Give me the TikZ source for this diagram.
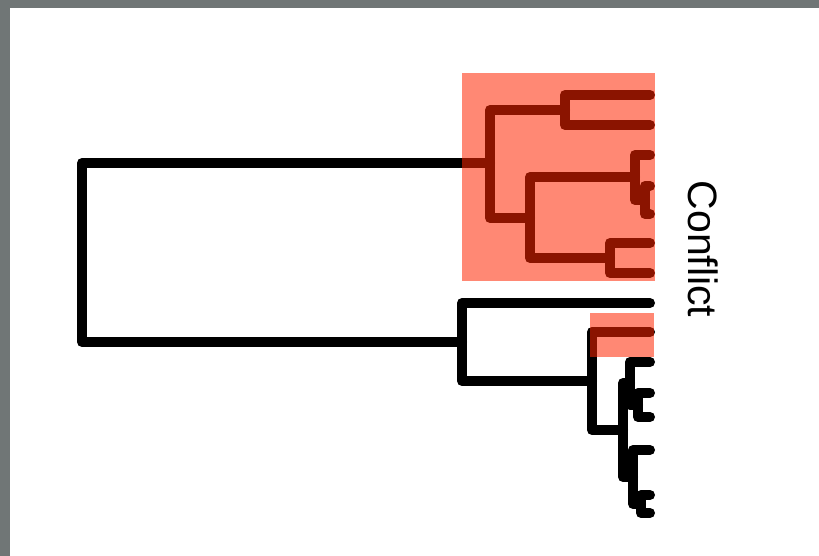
\documentclass[tikz,border=0pt]{standalone}
\usepackage{fontspec}
\setmainfont{Liberation Sans}
\definecolor{framegray}{RGB}{112,118,118}
\definecolor{hlred}{RGB}{255,38,0}
\begin{document}
\begin{tikzpicture}[x=1pt,y=-1pt,
  branch/.style={line width=10pt, line cap=round, line join=round, black},
  hilite/.style={fill=hlred, fill opacity=0.545, draw=none}]
\useasboundingbox (0,0) rectangle (819,556);
\fill[white] (0,0) rectangle (819,556);
% window frame edges
\fill[framegray] (0,0) rectangle (819,8);
\fill[framegray] (0,0) rectangle (10,556);

% internal nodes
\coordinate (root) at (82,251);
\coordinate (A)    at (490,163);
\coordinate (A1)   at (565,110);
\coordinate (A2)   at (530,218);
\coordinate (A21)  at (635,177);
\coordinate (A211) at (645,200);
\coordinate (A22)  at (610,258);
\coordinate (B)    at (462,342);
\coordinate (B2)   at (592,381);
\coordinate (B3)   at (623,430);
\coordinate (B31)  at (630,383);
\coordinate (B311) at (638,405);
\coordinate (B32)  at (633,477);
\coordinate (B321) at (641,504);
% leaves
\coordinate (a1) at (650,95);
\coordinate (a2) at (650,125);
\coordinate (a3) at (650,155);
\coordinate (a4) at (650,186);
\coordinate (a5) at (650,214);
\coordinate (a6) at (650,243);
\coordinate (a7) at (650,273);
\coordinate (b1) at (650,303);
\coordinate (b2) at (650,332);
\coordinate (b3) at (650,362);
\coordinate (b4) at (650,393);
\coordinate (b5) at (650,417);
\coordinate (b6) at (650,450);
\coordinate (b7) at (650,495);
\coordinate (b8) at (650,513);

% dendrogram
\draw[branch] (root) |- (A) (root) |- (B)
  (A) |- (A1) (A) |- (A2)
  (A1) |- (a1) (A1) |- (a2)
  (A2) |- (A21) (A2) |- (A22)
  (A21) |- (a3) (A21) |- (A211)
  (A211) |- (a4) (A211) |- (a5)
  (A22) |- (a6) (A22) |- (a7)
  (B) |- (b1) (B) |- (B2)
  (B2) |- (b2) (B2) |- (B3)
  (B3) |- (B31) (B3) |- (B32)
  (B31) |- (b3) (B31) |- (B311)
  (B311) |- (b4) (B311) |- (b5)
  (B32) |- (b6) (B32) |- (B321)
  (B321) |- (b7) (B321) |- (b8);

% highlighted clades
\fill[hilite] (462,73) rectangle (655,281);
\fill[hilite] (590,313) rectangle (654,357);

\node[rotate=-90, inner sep=0pt, font=\fontsize{41}{49}\selectfont] (lbl) at (703,249) {Conflict};
\end{tikzpicture}
\end{document}
